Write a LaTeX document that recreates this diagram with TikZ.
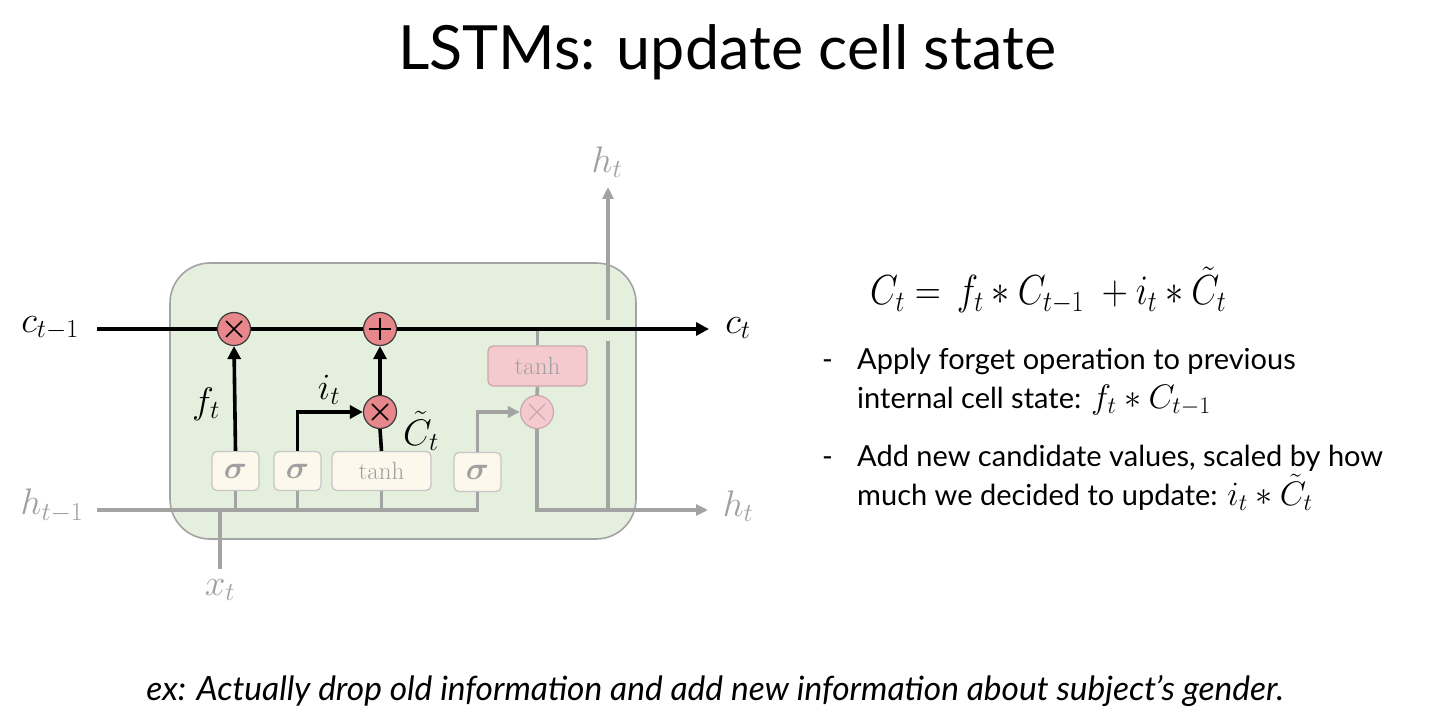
\RequirePackage{fix-cm}
\documentclass[tikz,border=0pt]{standalone}
\usepackage{amsmath}
\usepackage{fontspec}
\setmainfont{Lato}
\usetikzlibrary{arrows.meta,calc}
\definecolor{boxgreen}{HTML}{E4EFDD}
\definecolor{boxedge}{HTML}{A3A3A3}
\definecolor{gl}{HTML}{A3A3A3}
\definecolor{opred}{HTML}{E7878C}
\definecolor{opedge}{HTML}{3A3A3A}
\definecolor{palered}{HTML}{F4CACF}
\definecolor{paleedge}{HTML}{C9A9AD}
\definecolor{gatefill}{HTML}{FDF8EC}
\definecolor{gateedge}{HTML}{C6C6C6}
\definecolor{gtext}{HTML}{A0A0A0}
\newcommand{\bmath}[1]{{\fontsize{34}{34}\selectfont$#1$}}
\tikzset{
  cline/.style={black, line width=3.6pt},
  gline/.style={gl, line width=3.6pt},
  btip/.style={-{Triangle[length=13pt,width=13pt]}},
  gtip/.style={-{Triangle[length=12pt,width=11pt]}},
  opc/.style={circle, draw=opedge, fill=opred, line width=1.2pt, minimum size=33pt, inner sep=0pt},
  opcpale/.style={circle, draw=paleedge, fill=palered, line width=1.2pt, minimum size=33pt, inner sep=0pt},
  gatebox/.style={rectangle, rounded corners=5pt, draw=gateedge, fill=gatefill, line width=1.3pt, minimum width=47pt, minimum height=39pt, inner sep=0pt, text=gtext, font=\fontsize{32}{32}\selectfont},
  tanhfont/.style={font=\fontsize{25}{26}\selectfont\fontspec{Latin Modern Roman}},
  tanhpale/.style={rectangle, rounded corners=5pt, draw=paleedge, fill=palered, line width=1.3pt, minimum width=99pt, minimum height=40pt, inner sep=0pt, text=gtext},
  lbl/.style={inner sep=0pt, font=\fontsize{37}{40}\selectfont},
  glbl/.style={inner sep=0pt, text=gtext, font=\fontsize{37}{40}\selectfont},
  bodytxt/.style={inner sep=0pt, anchor=base west, font=\fontsize{29}{34}\selectfont},
}
\begin{document}
\begin{tikzpicture}[x=1pt,y=-1pt]
\useasboundingbox[fill=white] (0,0) rectangle (1430,722);

% title
\node[inner sep=0pt, anchor=base] (title) at (727,70) {\fontsize{61}{70}\selectfont LSTMs: update cell state};

% cell box
\node[draw=boxedge, fill=boxgreen, line width=1.6pt, rounded corners=40pt, minimum width=466pt, minimum height=276pt, inner sep=0pt] (cell) at (403,401) {};

% coordinates
\coordinate (cin) at (97,329);
\coordinate (cout) at (709,329);
\coordinate (hin) at (97,510);
\coordinate (hout) at (708,510);
\coordinate (xt) at (220,569);
\coordinate (hup) at (608,187);
\coordinate (hj) at (608,510);
\coordinate (gapb) at (608,341);
\coordinate (gapt) at (608,320);

% gates
\node[gatebox] (s1) at (235.5,471) {$\boldsymbol{\sigma}$};
\node[gatebox] (s2) at (297.5,471) {$\boldsymbol{\sigma}$};
\node[gatebox, minimum width=99pt, tanhfont] (t1) at (381.5,471) {tanh};
\node[gatebox] (s3) at (477.5,472) {$\boldsymbol{\sigma}$};
\node[tanhpale, tanhfont] (t2) at (537.5,366) {tanh};

% grey input lines
\draw[gline] (hin) -| (s3.south);
\draw[gline] (s1.south) -- (s1.south |- hin);
\draw[gline] (s2.south) -- (s2.south |- hin);
\draw[gline] (t1.south) -- (t1.south |- hin);
\draw[gline] (xt) -- (xt |- hin);

% output part (pale)
\node[opcpale] (ox) at (537,412) {};
\draw[gline] (t2.north) -- (t2.north |- cin);
\draw[gline] (t2.south) -- (ox.north);
\draw[gline, gtip] (s3.north) |- (ox.west);
\draw[gline, gtip] (ox.south) |- (hout);
\draw[gline] (hj) -- (gapb);
\draw[gline, gtip] (gapt) -- (hup);
\draw[paleedge, line width=1.3pt] ($(ox)+(-8,-8)$) -- ($(ox)+(8,8)$) ($(ox)+(-8,8)$) -- ($(ox)+(8,-8)$);

% black ops
\node[opc] (fx) at (234,329) {};
\node[opc] (pl) at (380,329) {};
\node[opc] (ix) at (380,412) {};
\draw[cline] (cin) -- (fx.west);
\draw[cline] (fx.east) -- (pl.west);
\draw[cline, btip] (pl.east) -- (cout);
\draw[cline, btip] (s1.north) -- (fx.south);
\draw[cline, btip] (s2.north) |- (ix.west);
\draw[cline] (t1.north) -- (ix.south);
\draw[cline, btip] (ix.north) -- (pl.south);
\foreach \n in {fx,ix}{
  \draw[black, line width=1.5pt] ($(\n)+(-8,-8)$) -- ($(\n)+(8,8)$) ($(\n)+(-8,8)$) -- ($(\n)+(8,-8)$);
}
\draw[black, line width=1.5pt] ($(pl)+(-11,0)$) -- ($(pl)+(11,0)$) ($(pl)+(0,-11)$) -- ($(pl)+(0,11)$);

% labels
\node[lbl] (lcin) at (50,328) {$c_{t-1}$};
\node[lbl] (lcout) at (738,328) {$c_t$};
\node[glbl] (lhin) at (52,506) {$h_{t-1}$};
\node[glbl] (lhout) at (738,506) {$h_t$};
\node[glbl] (lhup) at (607,162) {$h_t$};
\node[glbl] (lxt) at (220,590) {$x_t$};
\node[lbl] (lft) at (206,404) {$f_t$};
\node[lbl] (lit) at (329,390) {$i_t$};
\node[lbl] (lct) at (421,431) {$\tilde{C}_t$};

% equation
\node[inner sep=0pt, anchor=base west] (eq) at (870,305) {\scalebox{0.86}[1]{\fontsize{42}{50}\selectfont $C_t =\, f_t * C_{t-1}\; + i_t * \tilde{C}_t$}};

% bullets
\node[bodytxt] (d1) at (822,369) {-};
\node[bodytxt] (b1) at (857,369) {Apply forget operation to previous};
\node[bodytxt] (b2) at (857,408) {internal cell state: \bmath{f_t * C_{t-1}}};
\node[bodytxt] (d2) at (822,466) {-};
\node[bodytxt] (b3) at (857,466) {Add new candidate values, scaled by how};
\node[bodytxt] (b4) at (857,505) {much we decided to update: \bmath{i_t * \tilde{C}_t}};

% bottom
\node[inner sep=0pt, anchor=base] (ex) at (715,700) {\fontsize{33.5}{38}\selectfont\itshape ex: Actually drop old information and add new information about subject’s gender.};
\end{tikzpicture}
\end{document}
